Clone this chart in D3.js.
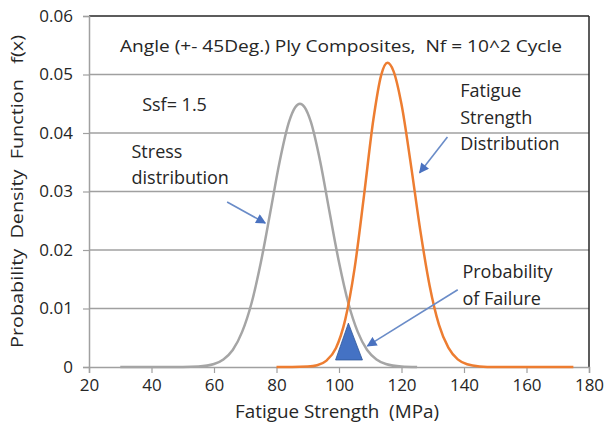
<!DOCTYPE html>
<html><head><meta charset="utf-8">
<script src="https://cdn.jsdelivr.net/npm/d3@7"></script>
<style>body{margin:0;background:#fff}svg{display:block}text{font-family:"Open Sans",sans-serif;fill:#262626;white-space:pre}</style>
</head><body><svg id="c" width="606" height="435"></svg>
<script>
// ---- data ----
const stressX = [30,40,50,55,60,63,66,69,72,75,78,81,84,86,87.5,89,91,94,97,100,103,106,109,112,115,120,125];
const stressY = [0,0,0.00001,0.00009,0.00052,0.0013,0.0029,0.006,0.0109,0.0179,0.0264,0.0351,0.0419,0.0444,0.045,0.0444,0.0419,0.0351,0.0264,0.0179,0.0109,0.006,0.0029,0.0013,0.00052,0.00009,0.00001];
const strengthX = [80,85,90,93,96,99,102,105,108,111,113.5,115.5,117.5,120,123,126,129,132,135,138,141,145,150,160,175];
const strengthY = [0,0,0.00007,0.0003,0.0011,0.0032,0.0081,0.0169,0.0293,0.0423,0.0499,0.052,0.0505,0.0449,0.0346,0.0234,0.0139,0.0072,0.0033,0.0013,0.00046,0.0001,0.00001,0,0];
const failX = [98.9,103,107.5];
const failY = [0.0012,0.0075,0.0012];
const xTicks = [20,40,60,80,100,120,140,160,180];
const yTicks = [0,0.01,0.02,0.03,0.04,0.05,0.06];
const yTickLabels = ["0","0.01","0.02","0.03","0.04","0.05","0.06"];
const titleText = "Angle (+- 45Deg.) Ply Composites,  Nf = 10^2 Cycle";
const xTitle = "Fatigue Strength  (MPa)";
const yTitle = "Probability  Density  Function   f(x)";
const notes = [
  {lines:["Ssf= 1.5"], x:37, y:0.0437},
  {lines:["Stress","distribution"], x:33.6, y:0.0358},
  {lines:["Fatigue","Strength","Distribution"], x:138.8, y:0.0461},
  {lines:["Probability","of Failure"], x:139.5, y:0.0152}
];
const arrows = [
  {x1:64.2,y1:0.0282,x2:76.4,y2:0.0246},
  {x1:134.7,y1:0.0393,x2:125.8,y2:0.0332},
  {x1:138,y1:0.0132,x2:109.1,y2:0.0036}
];

// ---- layout ----
const L=89,R=589,T=16,B=367;
const svg=d3.select("#c");
const x=d3.scaleLinear().domain([20,180]).range([L,R]);
const y=d3.scaleLinear().domain([0,0.06]).range([B,T]);

svg.append("defs").append("marker").attr("id","ah").attr("viewBox","0 0 10 10")
 .attr("refX",9).attr("refY",5)
 .attr("orient","auto").attr("markerUnits","userSpaceOnUse")
 .attr("markerWidth",12).attr("markerHeight",10)
 .append("path").attr("d","M0,0L10,5L0,10Z").attr("fill","#4a72c0");

// gridlines
svg.append("g").selectAll("line").data(yTicks.slice(1,6)).join("line")
 .attr("x1",L).attr("x2",R).attr("y1",d=>y(d)).attr("y2",d=>y(d))
 .attr("stroke","#a0a0a0").attr("stroke-width",1.5);
// top & right border
svg.append("line").attr("x1",L).attr("x2",R).attr("y1",y(0.06)).attr("y2",y(0.06)).attr("stroke","#262626").attr("stroke-width",1.5);
svg.append("line").attr("x1",R).attr("x2",R).attr("y1",T).attr("y2",B).attr("stroke","#262626").attr("stroke-width",1.5);

// axes
const xa=svg.append("g").attr("transform",`translate(0,${B})`)
 .call(d3.axisBottom(x).tickValues(xTicks).tickSize(6).tickPadding(6).tickFormat(d3.format("d")));
const ya=svg.append("g").attr("transform",`translate(${L},0)`)
 .call(d3.axisLeft(y).tickValues(yTicks).tickSize(6).tickPadding(10).tickFormat((d,i)=>yTickLabels[i]));
[xa,ya].forEach(a=>{a.select(".domain").attr("stroke","#a0a0a0").attr("stroke-width",1.5);
 a.selectAll(".tick line").attr("stroke","#a0a0a0").attr("stroke-width",1.2);
 a.selectAll("text").attr("font-size",17).attr("font-family","'Open Sans',sans-serif").attr("fill","#262626");});

// curves
const line=d3.line().x(d=>x(d[0])).y(d=>y(d[1])).curve(d3.curveMonotoneX);
svg.append("path").datum(stressX.map((v,i)=>[v,stressY[i]])).attr("d",line)
 .attr("fill","none").attr("stroke","#a5a5a5").attr("stroke-width",2.5);
svg.append("path").datum(strengthX.map((v,i)=>[v,strengthY[i]])).attr("d",line)
 .attr("fill","none").attr("stroke","#ed7d31").attr("stroke-width",2.5);

// failure triangle
svg.append("path").datum(failX.map((v,i)=>[v,failY[i]]))
 .attr("d",d=>d3.line().x(p=>x(p[0])).y(p=>y(p[1]))(d)+"Z").attr("fill","#4472c4").attr("stroke","#2f5597").attr("stroke-width",0.8);

// arrows
svg.append("g").selectAll("line").data(arrows).join("line")
 .attr("x1",d=>x(d.x1)).attr("y1",d=>y(d.y1)).attr("x2",d=>x(d.x2)).attr("y2",d=>y(d.y2))
 .attr("stroke","#6a8cc8").attr("stroke-width",1.6).attr("marker-end","url(#ah)");

// notes
notes.forEach(n=>{
  const t=svg.append("text").attr("x",x(n.x)).attr("y",y(n.y)).attr("font-size",18);
  n.lines.forEach((s,i)=>t.append("tspan").attr("x",x(n.x)).attr("dy",i?26.5:0).text(s));
});

// titles
svg.append("text").attr("x",120).attr("y",52).attr("font-size",17)
 .attr("textLength",442).attr("lengthAdjust","spacingAndGlyphs").text(titleText);
svg.append("text").attr("x",235).attr("y",418).attr("font-size",18)
 .attr("textLength",204).attr("lengthAdjust","spacingAndGlyphs").text(xTitle);
svg.append("text").attr("transform","translate(23,348) rotate(-90)").attr("font-size",17)
 .attr("textLength",313).attr("lengthAdjust","spacingAndGlyphs").text(yTitle);
</script></body></html>
